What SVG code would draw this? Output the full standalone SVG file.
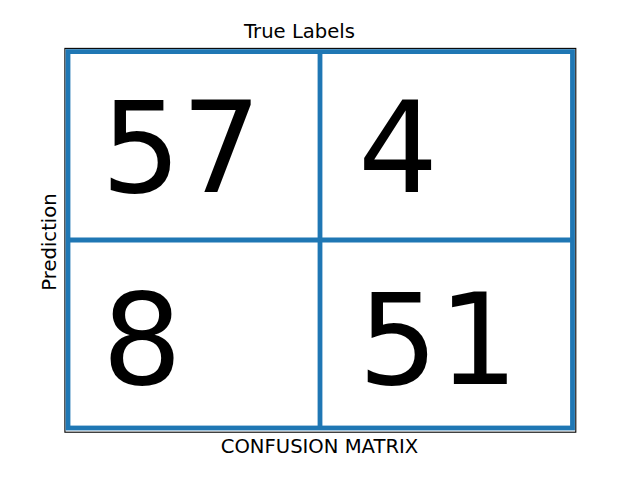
<svg xmlns="http://www.w3.org/2000/svg" width="640" height="480" viewBox="0 0 640 480">
<style>
.lbl{font-family:"DejaVu Sans",sans-serif;font-size:19.6px;fill:#000}
.num{font-family:"DejaVu Sans",sans-serif;font-size:126px;fill:#000}
.grid{stroke:#1f77b4;stroke-width:4.8;fill:none}
</style>
<rect width="640" height="480" fill="#fff"/>
<g id="frame">
<rect x="64.9" y="48.4" width="510.9" height="383.8" fill="none" stroke="#000" stroke-width="1.1"/>
</g>
<g id="connectors">
<rect class="grid" x="68" y="51.6" width="504.5" height="376.4"/>
<line class="grid" x1="320" y1="51.6" x2="320" y2="428"/>
<line class="grid" x1="68" y1="240" x2="572.5" y2="240"/>
</g>
<g id="cell-tl"><text class="num" x="101" y="192">57</text></g>
<g id="cell-tr"><text class="num" x="358" y="192">4</text></g>
<g id="cell-bl"><text class="num" x="102" y="384">8</text></g>
<g id="cell-br"><text class="num" x="358" y="384">51</text></g>
<g id="labels">
<text class="lbl" x="299.5" y="38.3" text-anchor="middle">True Labels</text>
<text class="lbl" x="319.5" y="453.3" text-anchor="middle">CONFUSION MATRIX</text>
<text class="lbl" text-anchor="middle" transform="translate(56,242) rotate(-90)">Prediction</text>
</g>
</svg>
